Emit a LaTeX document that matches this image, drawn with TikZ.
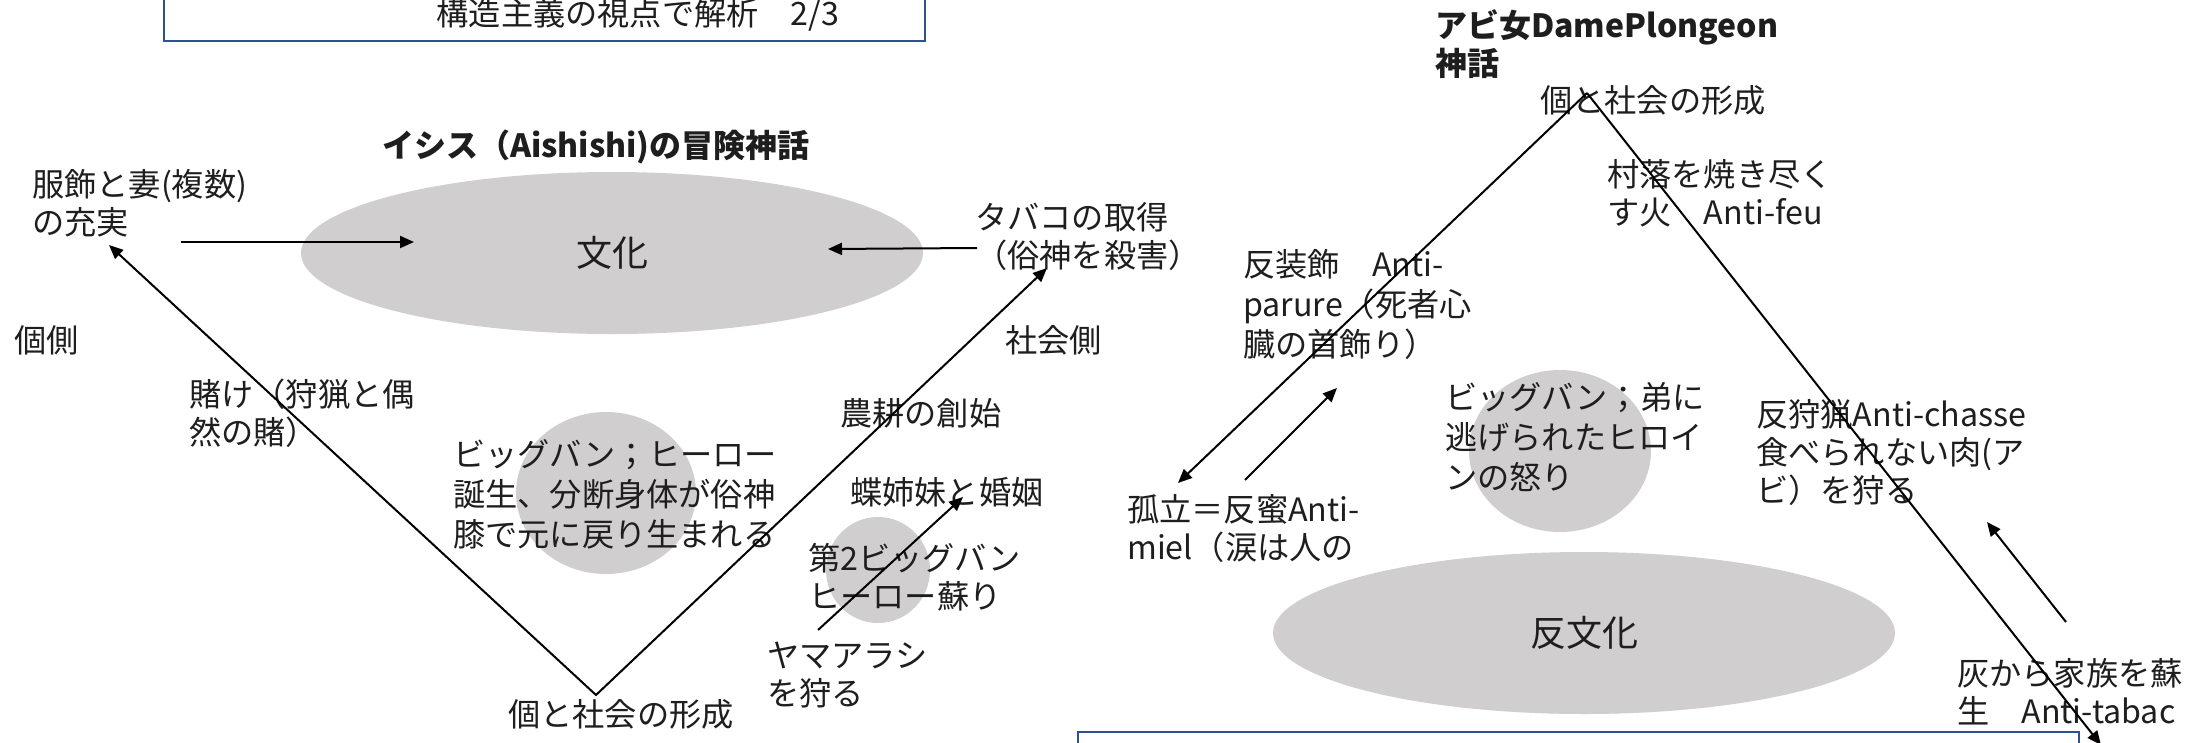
\documentclass[tikz,border=0pt]{standalone}
\usepackage{fontspec}
\setmainfont{Noto Sans CJK JP}
\usetikzlibrary{arrows.meta,shapes.geometric}
\definecolor{ellgray}{HTML}{D0CECE}
\definecolor{boxblue}{HTML}{2F528F}
\definecolor{txt}{HTML}{1E1E1E}
\begin{document}
\begin{tikzpicture}[x=1pt,y=-1pt,
  every node/.style={inner sep=0pt,text=txt},
  lbl/.style={anchor=west,align=left,font=\fontsize{32.2}{38}\selectfont},
  lblw/.style={anchor=west,align=left,font=\fontsize{32.2}{40}\selectfont},
  ttl/.style={anchor=west,align=left,font=\fontsize{32}{38}\selectfont\bfseries},
  blob/.style={ellipse,fill=ellgray,inner sep=0pt},
  arr/.style={-{Triangle[length=14pt,width=12pt]},line width=2pt,black},
  darr/.style={{Triangle[length=14pt,width=12pt]}-{Triangle[length=14pt,width=12pt]},line width=2pt,black},
  ln/.style={line width=2pt,black},
  frame/.style={draw=boxblue,line width=2pt}]
\useasboundingbox (0,0) rectangle (2193,742);
\fill[white] (0,0) rectangle (2193,742);

% ---------- top box ----------
\draw[frame] (164,-30) rectangle (925,41);
\node[font=\fontsize{32.2}{38}\selectfont] (hdr) at (638,15) {構造主義の視点で解析　2/3};

% ---------- left diagram ----------
\node[ttl] (t1) at (382,147) {イシス（Aishishi)の冒険神話};
\node[blob,minimum width=622pt,minimum height=162pt,font=\fontsize{36}{40}\selectfont] (bunka) at (612,253) {文化};
\node[blob,minimum width=180pt,minimum height=162pt] (bb1) at (606,493) {};
\node[blob,minimum width=104pt,minimum height=106pt] (bb2) at (878,570) {};

\node[lbl] (fuku) at (32,203.5) {服飾と妻(複数)\\の充実};
\node[lbl] (taba) at (975,236.5) {タバコの取得\\（俗神を殺害）};
\node[lbl] (koso) at (14,340) {個側};
\node[lbl] (shak) at (1005,340) {社会側};
\node[lbl] (kake) at (189,413) {賭け（狩猟と偶\\然の賭）};
\node[lblw] (bbt1) at (453,494) {ビッグバン；ヒーロー\\誕生、分断身体が俗神\\膝で元に戻り生まれる};
\node[lbl] (nou) at (840,413) {農耕の創始};
\node[lbl] (cho) at (850,492) {蝶姉妹と婚姻};
\node[lbl] (bbt2) at (808,577.5) {第2ビッグバン\\ヒーロー蘇り};
\node[lbl] (yama) at (767,675) {ヤマアラシ\\を狩る};
\node[lbl] (kob) at (508,714) {個と社会の形成};

\coordinate (vL) at (109,245);
\coordinate (vB) at (596,695);
\coordinate (vR) at (1047,268);
\draw[darr] (vL) -- (vB) -- (vR);
\coordinate (a1s) at (181,242);
\coordinate (a1e) at (414,242);
\draw[arr] (a1s) -- (a1e);
\coordinate (a2s) at (977,248);
\coordinate (a2e) at (828,249);
\draw[arr] (a2s) -- (a2e);
\coordinate (a3s) at (818,630);
\coordinate (a3e) at (963,497);
\draw[arr] (a3s) -- (a3e);

% ---------- right diagram ----------
\node[blob,minimum width=182pt,minimum height=162pt] (bb3) at (1560,451) {};
\node[blob,minimum width=622pt,minimum height=162pt,font=\fontsize{36}{40}\selectfont] (hanb) at (1584,633) {反文化};

\node[ttl] (t2) at (1435,44) {アビ女DamePlongeon\\神話};
\node[lbl] (kot) at (1540,100) {個と社会の形成};
\node[lbl] (son) at (1607,193.5) {村落を焼き尽く\\す火　Anti-feu};
\node[lblw] (hans) at (1243,305) {反装飾　Anti-\\parure（死者心\\臓の首飾り）};
\node[lblw] (bbt3) at (1445,437.5) {ビッグバン；弟に\\逃げられたヒロイ\\ンの怒り};
\node[lbl] (hanr) at (1756,452.5) {反狩猟Anti-chasse\\食べられない肉(ア\\ビ）を狩る};
\node[lbl] (kor) at (1127,528.5) {孤立＝反蜜Anti-\\miel（涙は人の};
\node[lbl] (hai) at (1957,691.5) {灰から家族を蘇\\生　Anti-tabac};

\draw[frame] (1078,732) rectangle (2079,800);

\coordinate (apex) at (1587,93);
\coordinate (rL) at (1178,483);
\coordinate (rR) at (2101,745);
\draw[arr] (apex) -- (rL);
\draw[arr] (apex) -- (rR);
\coordinate (b1s) at (1245,480);
\coordinate (b1e) at (1337,388);
\draw[arr] (b1s) -- (b1e);
\coordinate (b2s) at (2066,622);
\coordinate (b2e) at (1987,522);
\draw[arr] (b2s) -- (b2e);
\end{tikzpicture}
\end{document}
